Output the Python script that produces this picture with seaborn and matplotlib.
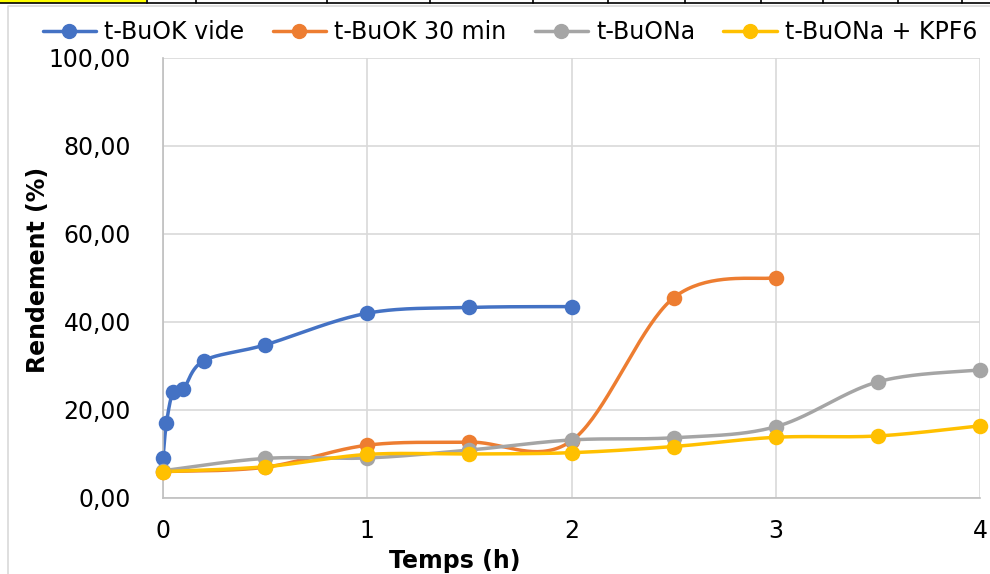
import numpy as np
import pandas as pd
import matplotlib
matplotlib.use("Agg")
import matplotlib.pyplot as plt
import seaborn as sns
from matplotlib.lines import Line2D
from matplotlib.patches import Rectangle
from matplotlib.ticker import FuncFormatter, MultipleLocator

# Data (time in h, yield in %)
time_vide = [0, 0.0167, 0.05, 0.1, 0.2, 0.5, 1, 1.5, 2]
rend_vide = [9.0, 17.0, 24.2, 24.8, 31.2, 34.8, 42.0, 43.3, 43.5]

time_30min = [0, 0.5, 1, 1.5, 2, 2.5, 3]
rend_30min = [6.0, 7.0, 12.0, 12.7, 13.0, 45.5, 50.1]

time_na = [0, 0.5, 1, 1.5, 2, 2.5, 3, 3.5, 4]
rend_na = [6.2, 9.0, 9.1, 10.9, 13.2, 13.7, 16.2, 26.4, 29.1]
rend_kpf6 = [6.0, 7.1, 9.9, 10.0, 10.3, 11.7, 13.8, 14.1, 16.4]

series_names = ["t-BuOK vide", "t-BuOK 30 min", "t-BuONa", "t-BuONa + KPF6"]
series_colors = ["#4472C4", "#ED7D31", "#A5A5A5", "#FFC000"]
x_ticks = [0, 1, 2, 3, 4]

series = [
    (series_names[0], time_vide, rend_vide),
    (series_names[1], time_30min, rend_30min),
    (series_names[2], time_na, rend_na),
    (series_names[3], time_na, rend_kpf6),
]


def smooth(x, y, n=40):
    # Excel-like smoothed line: cubic Bezier with Catmull-Rom control points
    p = np.column_stack([x, y]).astype(float)
    pts = np.vstack([p[0], p, p[-1]])
    out = []
    t = np.linspace(0, 1, n)[:, None]
    for i in range(1, len(pts) - 2):
        p0, p1, p2, p3 = pts[i - 1], pts[i], pts[i + 1], pts[i + 2]
        c1 = p1 + (p2 - p0) / 6
        c2 = p2 - (p3 - p1) / 6
        seg = ((1 - t) ** 3) * p1 + 3 * ((1 - t) ** 2) * t * c1 + 3 * (1 - t) * t ** 2 * c2 + t ** 3 * p2
        out.append(seg if i == 1 else seg[1:])
    seg = np.vstack(out)
    return seg[:, 0], seg[:, 1]


sns.set_style("white")
plt.rcParams["font.family"] = ["DejaVu Sans"]
plt.rcParams["text.color"] = "black"
plt.rcParams["xtick.color"] = "black"
plt.rcParams["ytick.color"] = "black"

fig = plt.figure(figsize=(9.9, 5.74), dpi=100)
ax = fig.add_axes([163 / 990, 1 - 498 / 574, 817 / 990, 440 / 574])

for (name, xs, ys), col in zip(series, series_colors):
    sx, sy = smooth(xs, ys)
    curve = pd.DataFrame({"t": sx, "r": sy})
    pts = pd.DataFrame({"t": xs, "r": ys})
    sns.lineplot(data=curve, x="t", y="r", sort=False, estimator=None,
                 color=col, linewidth=2.5, ax=ax)
    sns.scatterplot(data=pts, x="t", y="r", color=col, s=125,
                    linewidth=0, clip_on=False, zorder=3, ax=ax)

ax.set_xlim(0, 4)
ax.set_ylim(0, 100)
ax.set_xticks(x_ticks)
ax.set_xticklabels([str(v) for v in x_ticks])
ax.yaxis.set_major_locator(MultipleLocator(20))
ax.yaxis.set_major_formatter(FuncFormatter(lambda v, p: f"{v:.2f}".replace(".", ",")))
ax.grid(True, color="#D9D9D9", linewidth=1.2)
ax.set_axisbelow(True)
for s in ["top", "right"]:
    ax.spines[s].set_visible(False)
for s in ["left", "bottom"]:
    ax.spines[s].set_color("#BFBFBF")
    ax.spines[s].set_linewidth(1.2)
ax.tick_params(axis="y", length=0, pad=23, labelsize=17, labelcolor="black")
ax.tick_params(axis="x", length=0, pad=15, labelsize=17, labelcolor="black")
ax.set_xlabel("")
ax.set_ylabel("")

fig.text(38 / 990, 1 - 270 / 574, "Rendement (%)", rotation=90, ha="center", va="center",
         fontsize=17, fontweight="bold", color="black")
fig.text(455 / 990, 1 - 561 / 574, "Temps (h)", ha="center", va="center",
         fontsize=17, fontweight="bold", color="black")

handles = [Line2D([0], [0], color=c, linewidth=2.5, marker="o", markersize=10)
           for c in series_colors]
fig.legend(handles, series_names, loc="center", bbox_to_anchor=(510 / 990, 1 - 32 / 574),
           ncol=4, frameon=False, fontsize=17, handlelength=2.25, handletextpad=0.35,
           columnspacing=1.2, labelcolor="black")

# spreadsheet cells and chart border behind the chart
fig.add_artist(Rectangle((0, 1 - 3 / 574), 146 / 990, 3 / 574, transform=fig.transFigure,
                         facecolor="#FFFF00", edgecolor="none"))
fig.add_artist(Line2D([0, 1], [1 - 3 / 574] * 2, transform=fig.transFigure, color="black", linewidth=1.2))
for cx in [147, 196, 327, 430, 533, 608, 685, 761, 823, 898, 962]:
    fig.add_artist(Line2D([cx / 990] * 2, [1 - 3 / 574, 1], transform=fig.transFigure,
                          color="black", linewidth=1.2))
fig.add_artist(Line2D([8 / 990, 8 / 990, 1], [0, 1 - 6 / 574, 1 - 6 / 574],
                      transform=fig.transFigure, color="#D9D9D9", linewidth=1.2))

fig.savefig("out.png", dpi=100)
